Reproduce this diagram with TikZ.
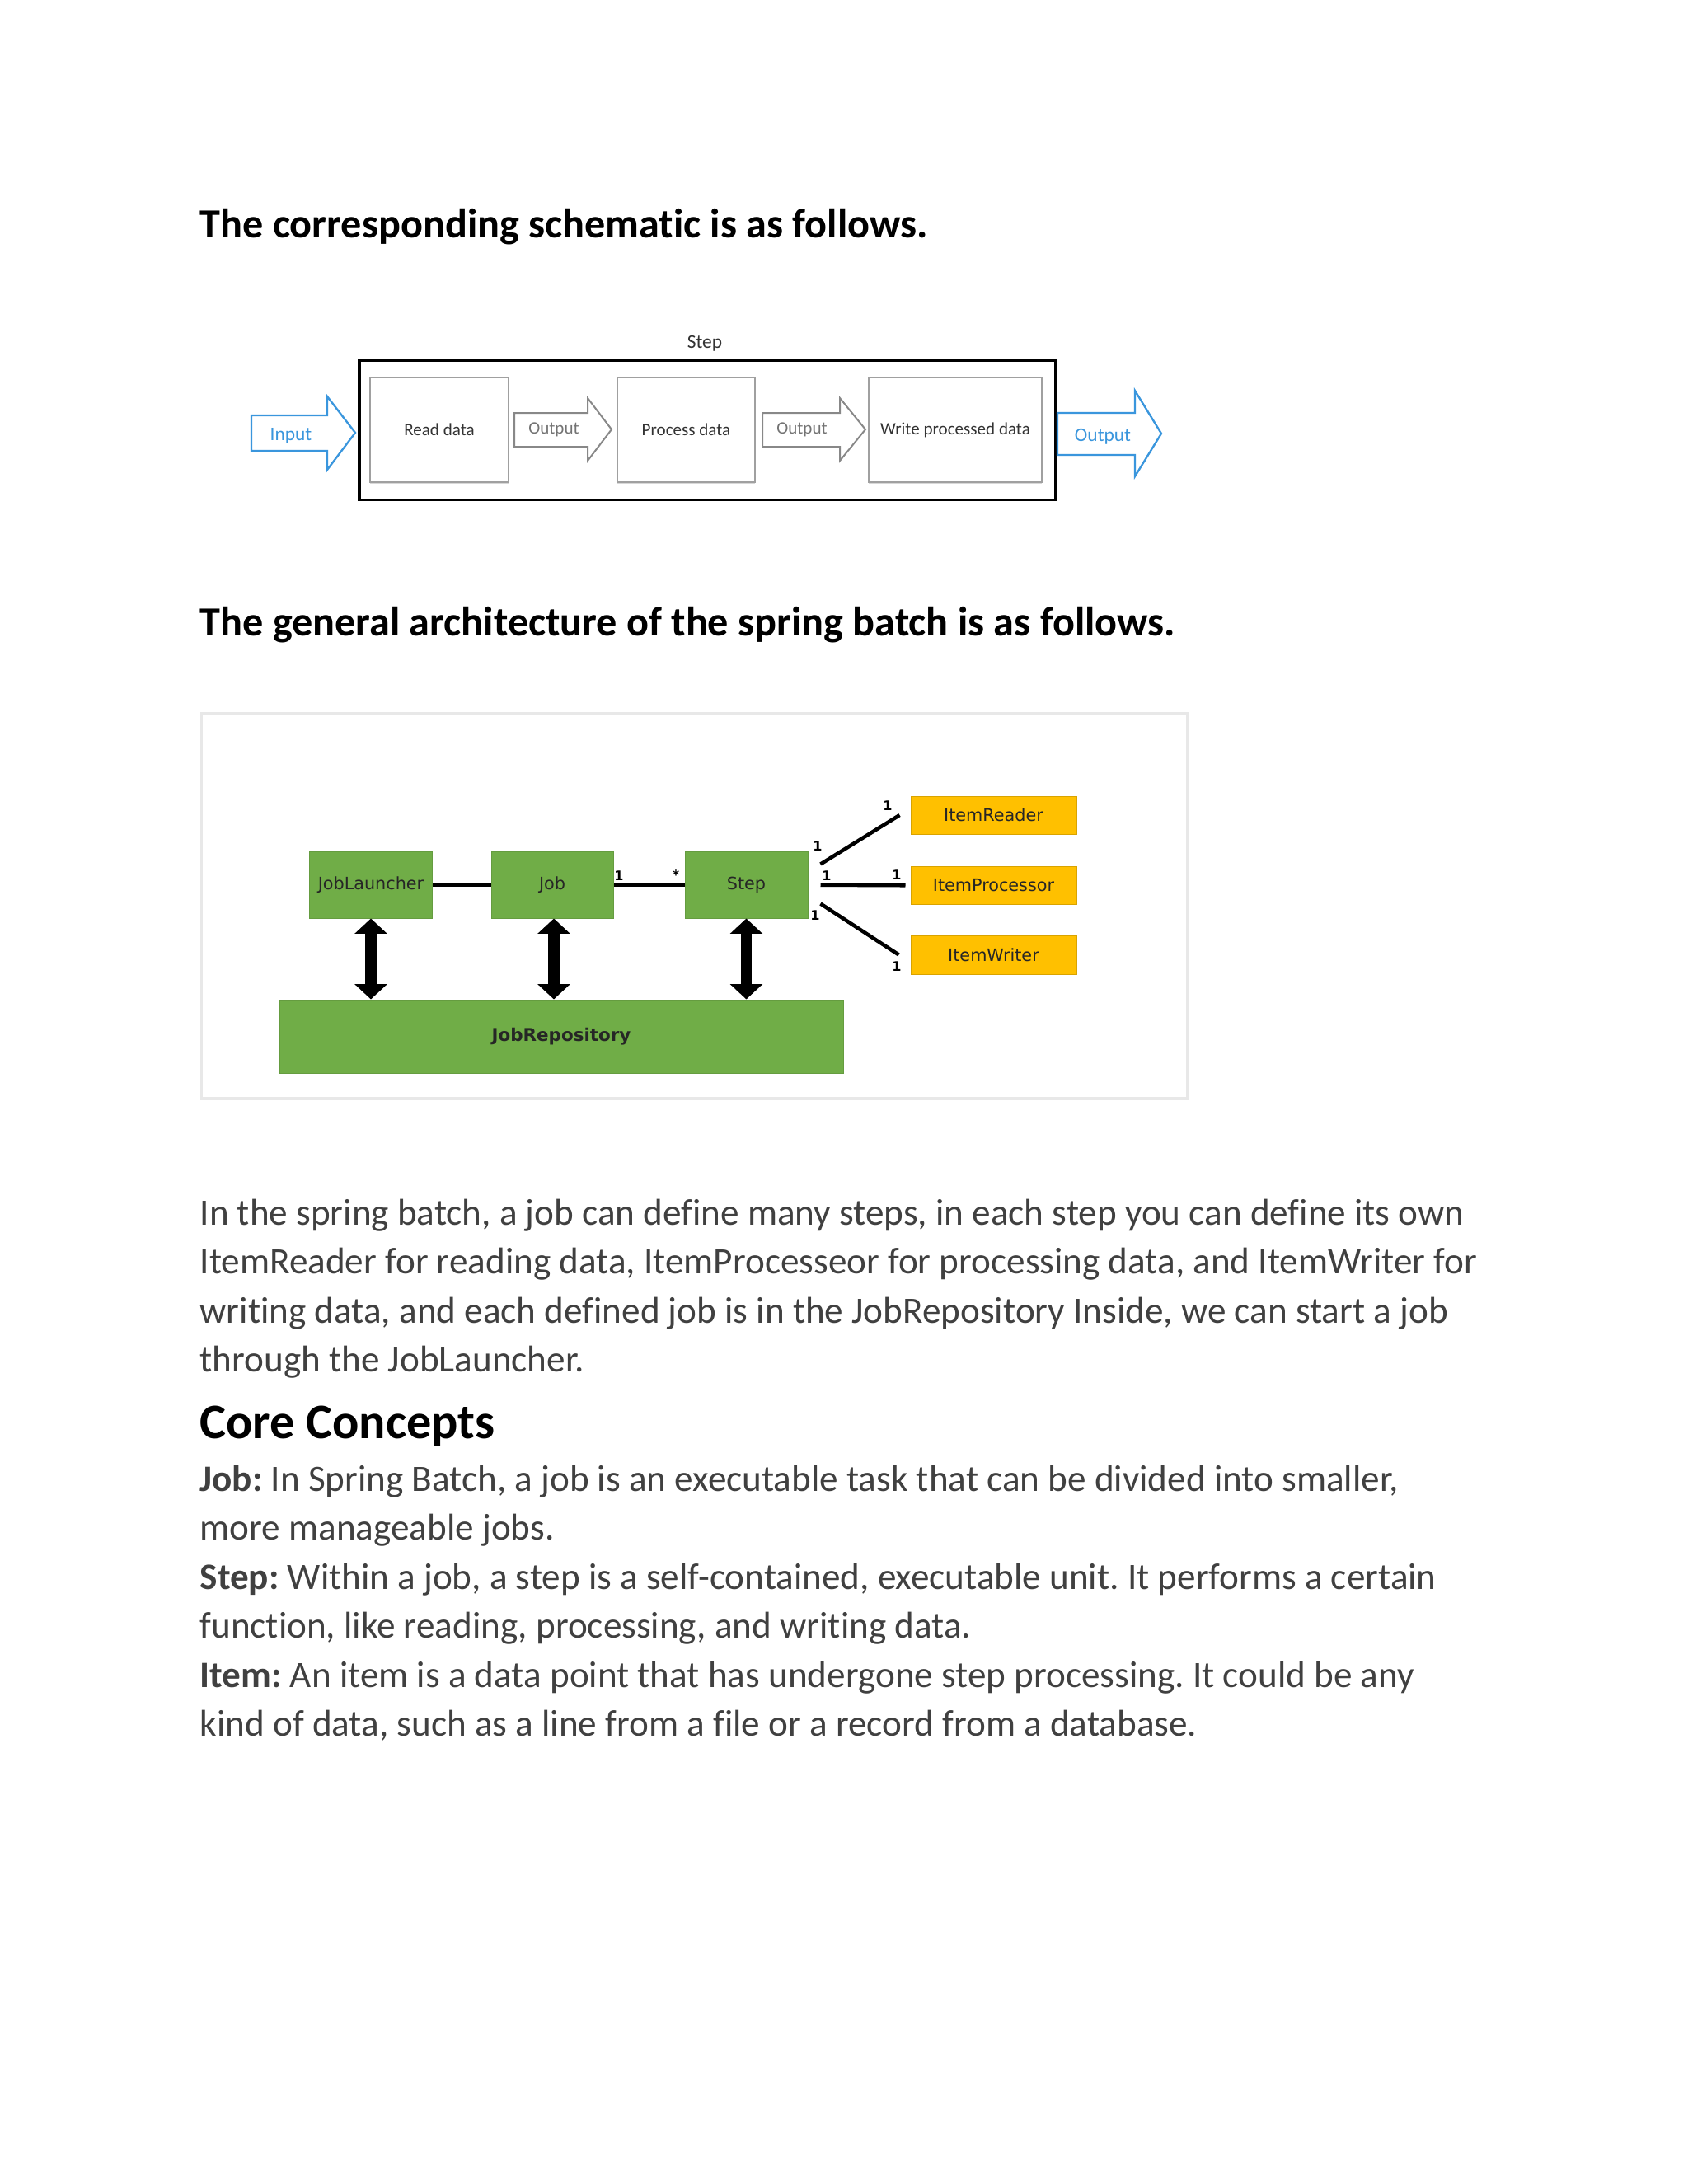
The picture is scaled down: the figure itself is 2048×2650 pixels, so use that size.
\documentclass[tikz,border=0pt]{standalone}
\usepackage{fontspec}
\setmainfont{Carlito}[Ligatures={NoCommon}]
\newfontfamily\archfont{DejaVu Sans}
\usetikzlibrary{arrows.meta,shadows}
\usepackage{xcolor}

\definecolor{bodygray}{HTML}{404040}
\definecolor{jobgreen}{HTML}{70AD47}
\definecolor{itemgold}{HTML}{FFC000}
\definecolor{flowblue}{HTML}{3A96DD}
\definecolor{boxgray}{HTML}{A0A0A0}
\def\pxu{0.29883pt}
\frenchspacing

\begin{document}
\begin{tikzpicture}[
    x=0.29883pt, y=-0.29883pt,
    heading/.style={anchor=base west, inner sep=0pt,
        font=\bfseries\fontsize{15}{17}\selectfont},
    para/.style={anchor=base west, inner sep=0pt,
        text=bodygray, font=\fontsize{13.5}{17.78}\selectfont},
    stage/.style={rectangle, draw=boxgray, line width=0.7pt, fill=white,
        minimum height=127*\pxu, inner sep=0pt, text=black!80,
        font=\fontsize{6.3}{7}\selectfont,
        drop shadow={shadow xshift=0pt, shadow yshift=-0.6pt, fill=black!30}},
    flowarrow/.style={draw=flowblue, line width=0.7pt, fill=white},
    passarrow/.style={draw=boxgray!85!black, line width=0.6pt, fill=white},
    flowtext/.style={inner sep=0pt, text=flowblue, font=\fontsize{7}{8}\selectfont},
    passtext/.style={inner sep=0pt, text=black!55, font=\fontsize{6.3}{7}\selectfont},
    jobbox/.style={rectangle, draw=jobgreen!90!black, fill=jobgreen, line width=0.3pt,
        minimum width=149*\pxu, minimum height=81*\pxu, inner sep=0pt,
        text=black!85, font=\archfont\fontsize{6.2}{7}\selectfont},
    itembox/.style={rectangle, draw=itemgold!85!black, fill=itemgold, line width=0.3pt,
        minimum width=201*\pxu, minimum height=46*\pxu, inner sep=0pt,
        text=black!85, font=\archfont\fontsize{6.2}{7}\selectfont},
    link/.style={line width=1.5pt, black},
    repolink/.style={line width=3.9pt, black,
        {Triangle[width=11.5pt,length=5.5pt]}-{Triangle[width=11.5pt,length=5.5pt]}},
    mult/.style={inner sep=0pt, font=\archfont\bfseries\fontsize{4.8}{5}\selectfont}
]
\fill[white] (0,0) rectangle (2048,2650);
\useasboundingbox (0,0) rectangle (2048,2650);

% headings
\node[heading] (head1) at (242,288) {The corresponding schematic is as follows.};
\node[heading] (head2) at (242,771) {The general architecture of the spring batch is as follows.};

% step schematic
\node[draw=black, line width=1pt, minimum width=845*\pxu, minimum height=169*\pxu]
    (stepframe) at (858.5,522) {};
\node[inner sep=0pt, text=black!80, font=\fontsize{7}{8}\selectfont] (steplbl) at (855,417) {Step};
\node[stage, minimum width=168*\pxu] (read) at (533,521.5) {Read data};
\node[stage, minimum width=167*\pxu] (process) at (832.5,521.5) {Process data};
\node[stage, minimum width=210*\pxu] (write) at (1159,521.5) {Write processed data};

\draw[flowarrow] (305,504) -- (397,504) -- (397,481) -- (431,525) -- (397,570)
    -- (397,547) -- (305,547) -- cycle;
\node[flowtext] (input) at (353,529) {Input};
\draw[passarrow] (624,501) -- (713,501) -- (713,483) -- (742,521) -- (713,559)
    -- (713,542) -- (624,542) -- cycle;
\node[passtext] (out1) at (672,521) {Output};
\draw[passarrow] (925,501) -- (1019,501) -- (1019,483) -- (1050,521) -- (1019,559)
    -- (1019,542) -- (925,542) -- cycle;
\node[passtext] (out2) at (973,521) {Output};
\draw[flowarrow] (1283,501) -- (1377,501) -- (1377,474) -- (1409,526) -- (1377,578)
    -- (1377,552) -- (1283,552) -- cycle;
\node[flowtext] (out3) at (1338,530) {Output};

% spring batch architecture
\node[draw=black!9, line width=1pt, minimum width=1196*\pxu, minimum height=467*\pxu,
      drop shadow={shadow xshift=0.5pt, shadow yshift=-0.5pt, fill=black!10}, fill=white]
    (archframe) at (842.5,1099.5) {};
\node[jobbox] (launcher) at (450,1073.5) {JobLauncher};
\node[jobbox, minimum width=148*\pxu] (job) at (670,1073.5) {Job};
\node[jobbox] (step) at (905.5,1073.5) {Step};
\node[itembox] (reader) at (1205.5,989) {ItemReader};
\node[itembox] (processor) at (1205.5,1074) {ItemProcessor};
\node[itembox, minimum height=47*\pxu] (writer) at (1205.5,1158.5) {ItemWriter};
\node[jobbox, minimum width=684*\pxu, minimum height=89*\pxu,
      font=\archfont\bfseries\fontsize{6.4}{7}\selectfont] (repo) at (681,1257.5) {JobRepository};

\draw[link] (launcher) -- (job);
\draw[link] (job) -- (step);
\draw[link] ([xshift=15*\pxu]step.east) -- ([xshift=-6*\pxu]processor.west);
\draw[link, line width=1.35pt] ([shift={(15,-25)}]step.east) -- ([xshift=-13*\pxu]reader.west);
\draw[link, line width=1.35pt] ([shift={(15,23)}]step.east) -- ([shift={(-14,0)}]writer.west);

\draw[repolink] (launcher.south) -- (launcher.south |- repo.north);
\draw[repolink] ([xshift=2*\pxu]job.south) -- ([xshift=2*\pxu]job.south |- repo.north);
\draw[repolink] (step.south) -- (step.south |- repo.north);

% multiplicities
\node[mult] (m1) at (751,1063) {1};
\node[mult] (m2) at (820,1062) {*};
\node[mult] (m3) at (992,1027) {1};
\node[mult] (m4) at (1077,978) {1};
\node[mult] (m5) at (1003,1063) {1};
\node[mult] (m6) at (1088,1062) {1};
\node[mult] (m7) at (989,1111) {1};
\node[mult] (m8) at (1088,1173) {1};

% text
\node[para] (intro) at (242,1486) {\parbox[t]{540pt}{In the spring batch, a job can define many steps, in each step you can define its own\\
ItemReader for reading data, ItemProcesseor for processing data, and ItemWriter for\\
writing data, and each defined job is in the JobRepository Inside, we can start a job\\
through the JobLauncher.}};
\node[heading, font=\bfseries\fontsize{18}{21}\selectfont] (core) at (242,1745) {Core Concepts};
\node[para] (concepts) at (242,1809) {\parbox[t]{540pt}{\textbf{Job:} In Spring Batch, a job is an executable task that can be divided into smaller,\\
more manageable jobs.\\
\textbf{Step:} Within a job, a step is a self-contained, executable unit. It performs a certain\\
function, like reading, processing, and writing data.\\
\textbf{Item:} An item is a data point that has undergone step processing. It could be any\\
kind of data, such as a line from a file or a record from a database.}};
\end{tikzpicture}
\end{document}
